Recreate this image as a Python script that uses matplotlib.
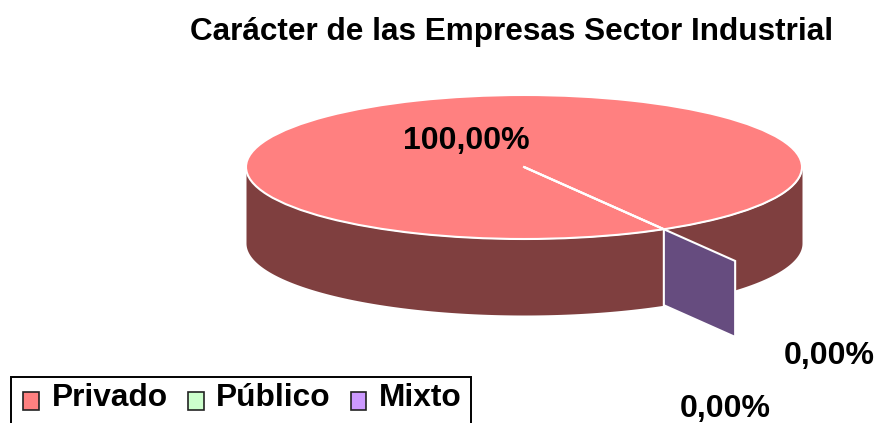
import numpy as np
import matplotlib
matplotlib.use('Agg')
import matplotlib.pyplot as plt
from matplotlib.legend_handler import HandlerPatch
from matplotlib.patches import Patch, Polygon, Rectangle

plt.rcParams['font.family'] = ['Liberation Sans', 'DejaVu Sans']
plt.rcParams['font.weight'] = 'bold'

categorias = ['Privado', 'Público', 'Mixto']
valores = [100.0, 0.0, 0.0]
colores = ['#FF8080', '#CCFFCC', '#CC99FF']
etiquetas = [f"{v:.2f}%".replace('.', ',') for v in valores]

W, H = 878, 423
inicio = -59.8  # angulo donde empieza el pastel
fondo = 76 / 72  # alto del costado, en radios verticales
pared = '#7F3F3F'
cara = '#664C7F'

fig = plt.figure(figsize=(W / 100, H / 100), dpi=100)
fig.patch.set_facecolor('white')

# caja del elipse en pixeles: x 246-802, y 95-239
ax = fig.add_axes([246 / W, 1 - 239 / H, 556 / W, 144 / H])
wedges, _ = ax.pie(valores, colors=colores, startangle=inicio, counterclock=True,
                   wedgeprops={'edgecolor': 'white', 'linewidth': 1.5, 'zorder': 3})
ax.set_aspect('auto')
ax.set_xlim(-1, 1)
ax.set_ylim(-1, 1)
ax.axis('off')

# costado de abajo
t = np.radians(np.linspace(180, 360, 200))
ax.fill_between(np.cos(t), np.sin(t), np.sin(t) - fondo, color=pared, lw=0, zorder=1, clip_on=False)

# linea blanca del corte y cara de la rebanada separada
a = np.radians(inicio)
cx, cy = np.cos(a), np.sin(a)
ax.plot([0, cx], [0, cy], color='white', lw=1.5, zorder=4, clip_on=False)
largo = 1.51
cara_pts = [(cx, cy), (cx * largo, cy * largo), (cx * largo, cy * largo - fondo), (cx, cy - fondo)]
ax.add_patch(Polygon(cara_pts, closed=True, facecolor=cara, edgecolor='white', lw=1.5,
                     zorder=2, clip_on=False))

# textos en pixeles
def px(x, y):
    return x / W, 1 - y / H

fig.text(*px(512, 32), 'Carácter de las Empresas Sector Industrial', fontsize=22.7,
         ha='center', va='center', color='black')
pos_etiquetas = [(466, 141), (829, 356), (725, 409)]
for e, (x, y) in zip(etiquetas, pos_etiquetas):
    fig.text(*px(x, y), e, fontsize=23, ha='center', va='center', color='black', zorder=6)

# marco de la leyenda, se corta abajo igual que el original
fig.add_artist(Rectangle(px(11, 440), 460 / W, 63 / H, transform=fig.transFigure,
                         facecolor='white', edgecolor='black', lw=1.4))

# cuadrito mas abajo que el texto
def cuadro(legend, orig_handle, xdescent, ydescent, width, height, fontsize):
    return Rectangle((-xdescent, -ydescent - 0.2 * fontsize), width, height)

handles = [Patch(facecolor=c, edgecolor='#222222', lw=1.2) for c in colores]
leg = fig.legend(handles, categorias, ncol=3, loc='upper left',
                 bbox_to_anchor=px(23.5, 382.5), bbox_transform=fig.transFigure,
                 frameon=False, fontsize=22.8, borderaxespad=0, borderpad=0,
                 handlelength=0.5, handleheight=0.5, handletextpad=0.4, columnspacing=0.62,
                 handler_map={Patch: HandlerPatch(patch_func=cuadro)})

fig.savefig('out.png', dpi=100)
